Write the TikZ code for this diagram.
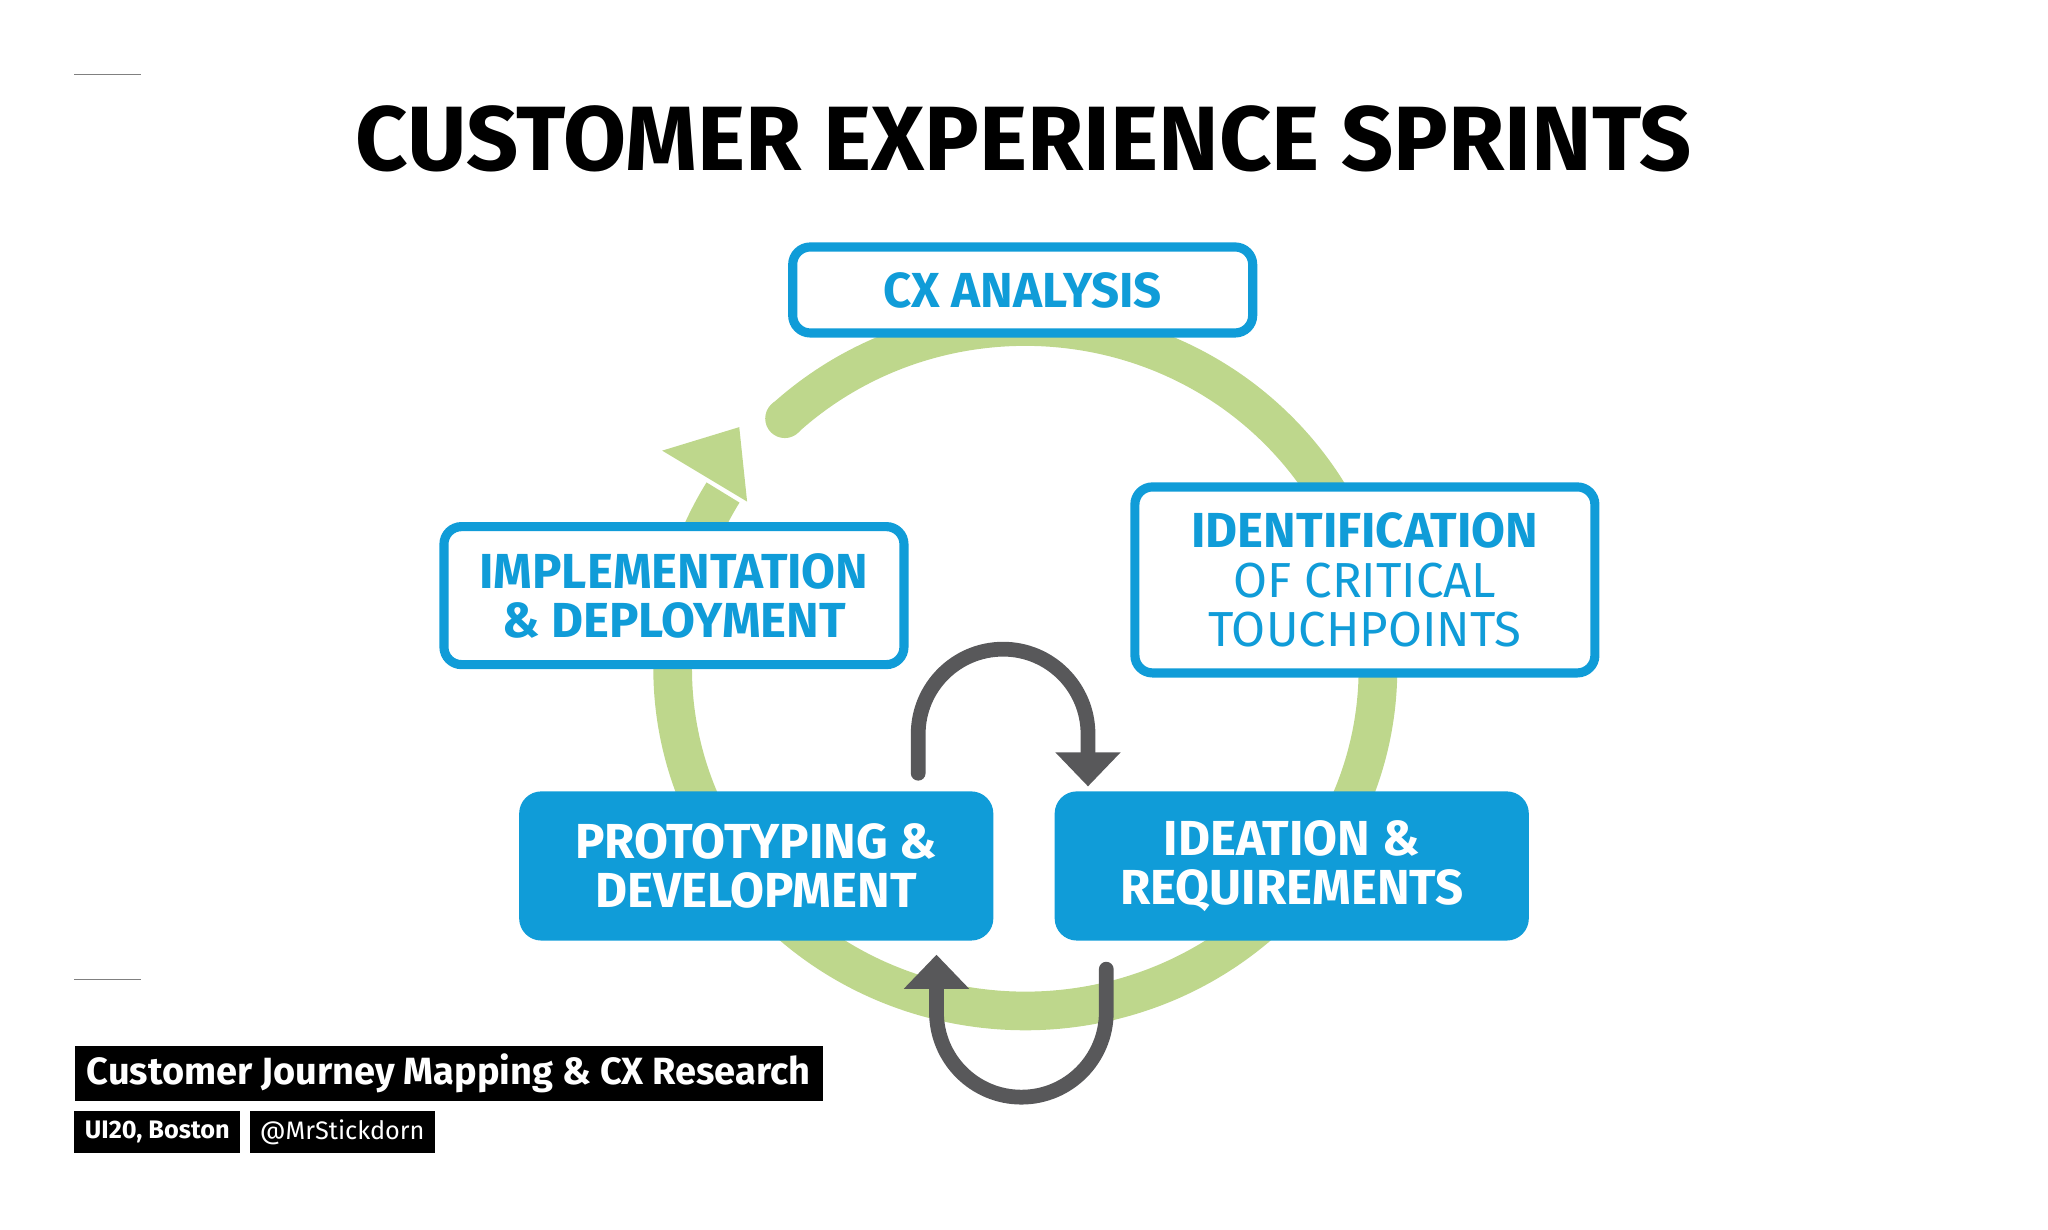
\documentclass[tikz,border=0pt]{standalone}
\usepackage{fontspec}
\setmainfont{Fira Sans}
\usetikzlibrary{calc}
\definecolor{cxblue}{RGB}{16,156,216}
\definecolor{cxgreen}{RGB}{190,215,140}
\definecolor{cxgray}{RGB}{88,88,90}
\tikzset{
  stage/.style={draw=cxblue, line width=2.6pt, fill=white, rounded corners=5pt, text=cxblue, align=center, font=\fontsize{14}{16}\selectfont\bfseries, inner sep=0pt},
  stagefill/.style={stage, fill=cxblue, text=white},
  tag/.style={fill=black, text=white, inner sep=0pt, font=\fontsize{7.2}{9}\selectfont\bfseries}
}
\begin{document}
\begin{tikzpicture}[x=0.01306cm, y=-0.01306cm]
	\useasboundingbox (0,0) rectangle (1568,941);
	\draw [gray, thin] (57,57) -- (108,57);
	\draw [gray, thin] (57,750) -- (108,750);
	\node (title) at (784,106) {\fontsize{26}{30}\selectfont\bfseries CUSTOMER EXPERIENCE SPRINTS};

	% green cycle
	\coordinate (O) at (785,512);
	\coordinate (start) at ($(O)+(-133:270 and 262)$);
	\fill [cxgreen] (start) circle (15);
	\draw [cxgreen, line width=11pt] (start) arc [start angle=-133, end angle=211, x radius=270, y radius=262];
	\fill [cxgreen] (507,345) -- (566,327) -- (572,384) -- cycle;

	% stages
	\node [stage, minimum width=4.6cm, minimum height=0.86cm] (cx) at (783,222) {CX ANALYSIS};
	\node [stage, minimum width=4.6cm, minimum height=1.86cm] (ident) at (1045,444) {IDENTIFICATION\\[-2pt] {\mdseries OF CRITICAL}\\[-2pt] {\mdseries TOUCHPOINTS}};
	\node [stage, minimum width=4.6cm, minimum height=1.38cm] (impl) at (516,456) {IMPLEMENTATION\\[-2pt] \& DEPLOYMENT};
	\node [stagefill, minimum width=4.65cm, minimum height=1.4cm] (proto) at (579,663) {PROTOTYPING \&\\[-2pt] DEVELOPMENT};
	\node [stagefill, minimum width=4.65cm, minimum height=1.4cm] (idea) at (989,663) {IDEATION \&\\[-2pt] REQUIREMENTS};

	% gray loop arrows
	\coordinate (up) at (703,592);
	\coordinate (down) at (847,742);
	\draw [cxgray, line width=4.2pt, line cap=round] (up) -- (703,562) arc [start angle=180, end angle=0, x radius=65, y radius=-65] -- (833,578);
	\fill [cxgray] (808,576) -- (858,576) -- (833,602) -- cycle;
	\draw [cxgray, line width=4.2pt, line cap=round] (down) -- (847,775) arc [start angle=0, end angle=-180, x radius=65, y radius=-65] -- (717,756);
	\fill [cxgray] (692,757) -- (742,757) -- (717,731) -- cycle;

	% footer
	\node [tag, minimum width=7.48cm, minimum height=0.55cm, font=\fontsize{10.8}{13}\selectfont\bfseries] (event) at (343.5,822) {Customer Journey Mapping \& CX Research};
	\node [tag, minimum width=1.66cm, minimum height=0.42cm] (place) at (120.5,867) {UI20, Boston};
	\node [tag, minimum width=1.85cm, minimum height=0.42cm, font=\fontsize{7.2}{9}\selectfont] (handle) at (262,867) {@MrStickdorn};
\end{tikzpicture}
\end{document}
